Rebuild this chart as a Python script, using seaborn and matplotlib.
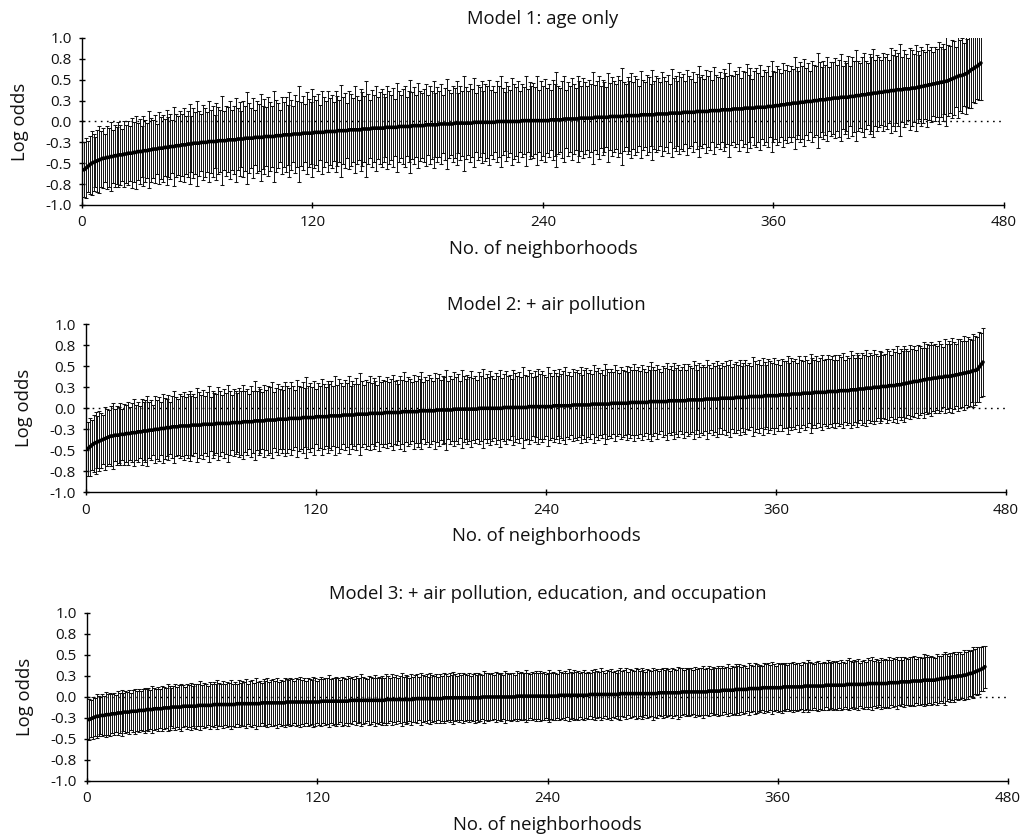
import numpy as np
import pandas as pd
import matplotlib
matplotlib.use("Agg")
import matplotlib.pyplot as plt
import seaborn as sns

# ---------------- text ----------------
titles = ["Model 1: age only",
          "Model 2: + air pollution",
          "Model 3: + air pollution, education, and occupation"]
x_label = "No. of neighborhoods"
y_label = "Log odds"
x_ticks = [0, 120, 240, 360, 480]
y_ticks = [-1.0, -0.75, -0.5, -0.25, 0.0, 0.25, 0.5, 0.75, 1.0]
y_tick_labels = ["-1.0", "-0.8", "-0.5", "-0.3", "0.0", "0.3", "0.5", "0.8", "1.0"]

# ---------------- data (log odds x 100) ----------------
m1_est = [
    -58,-56,-54,-52,-50,-49,-48,-47,-46,-45,
    -44,-44,-43,-43,-42,-42,-41,-41,-40,-40,
    -40,-39,-39,-38,-38,-38,-37,-37,-36,-36,
    -36,-35,-35,-35,-34,-34,-33,-33,-33,-32,
    -32,-32,-31,-31,-31,-30,-30,-30,-29,-29,
    -29,-28,-28,-28,-27,-27,-27,-26,-26,-26,
    -26,-25,-25,-25,-25,-24,-24,-24,-24,-24,-23,-23,-23,-23,-23,-22,-22,-22,-22,-22,
    -21,-21,-21,-21,-20,-20,-20,-20,-20,-19,-19,-19,-19,-19,-18,-18,-18,-18,-18,-18,
    -17,-17,-17,-17,-16,-16,-16,-16,-16,-15,-15,-15,-15,
    -15,-14,-14,-14,-14,-14,-14,-13,-13,-13,-13,-13,-13,-12,-12,-12,-12,-12,-12,
    -11,-11,-11,-11,-11,-11,-10,-10,-10,-10,-10,-10,-10,-9,-9,-9,-9,-9,
    -8,-8,-8,-8,-8,-8,-8,-7,-7,-7,-7,-7,-7,-7,-6,-6,-6,-6,-6,-6,-6,
    -5,-5,-5,-5,-5,-5,-5,-4,-4,-4,-4,-4,-4,-4,-3,-3,-3,-3,-3,-3,-3,-3,
    -2,-2,-2,-2,-2,-2,-2,
    -2,-2,-2,-1,-1,-1,-1,-1,-1,-1,-1,-1,-1,-1,-1,
    0,0,0,0,0,0,0,0,0,0,0,0,0,
    1,1,1,1,1,1,1,1,1,1,1,1,
    1,1,1,2,2,2,2,2,2,2,3,3,3,3,3,3,3,3,4,4,4,4,4,4,4,4,
    5,5,5,5,5,5,5,5,6,6,6,6,6,6,6,6,7,7,7,7,7,7,7,7,8,8,8,8,8,
    8,8,8,9,9,9,9,9,9,9,10,10,10,10,10,10,10,11,11,11,11,11,11,11,
    12,12,12,12,12,12,12,13,13,13,13,
    13,13,14,14,14,14,14,14,15,15,15,15,15,15,16,16,16,16,16,16,17,17,17,17,17,17,18,18,18,18,
    19,19,19,20,20,20,21,21,21,22,22,22,22,23,23,23,24,24,24,24,
    25,25,25,26,26,26,26,27,27,27,28,28,28,28,29,29,29,29,29,
    30,30,30,31,31,31,32,32,32,33,33,33,34,34,34,35,35,35,
    36,36,36,37,37,37,38,38,38,38,39,39,39,39,40,40,40,
    41,41,42,42,43,43,44,44,45,45,46,46,47,47,48,48,
    49,50,51,52,53,54,55,55,56,57,
    58,60,62,63,65,66,68,70,
]
m1_hw = [
    33,36,31,35,38,34,30,37,40,33,36,29,38,35,41,32,37,34,39,36,31,40,35,38,33,42,
    36,44,34,39,31,42,37,33,46,38,35,41,30,43,37,40,34,45,36,39,32,47,38,35,42,37,
    44,35,40,48,33,42,37,51,39,34,45,41,36,49,38,43,32,46,40,37,53,35,42,39,47,36,
    41,50,37,44,34,46,39,55,42,36,48,33,43,40,52,38,45,35,47,41,37,54,43,39,31,46,
    39,45,36,51,42,34,47,40,57,38,44,35,49,41,37,53,43,39,46,33,50,42,36,48,40,44,
    35,48,42,37,55,40,45,33,47,43,38,52,41,36,49,44,39,58,42,35,46,40,51,37,43,47,
    41,36,50,44,39,47,34,53,42,38,45,48,35,43,56,40,46,37,51,42,39,44,49,36,47,41,
    52,38,45,40,48,35,43,54,41,37,46,42,50,36,44,39,57,43,38,47,41,53,35,45,42,49,
    37,46,43,51,39,44,36,48,42,55,40,35,47,43,38,52,45,41,49,36,44,40,54,38,46,42,
    45,40,53,37,47,42,50,39,44,36,48,43,57,41,38,46,51,35,44,40,49,42,37,52,45,39,
    48,43,38,46,41,55,39,44,50,37,45,42,36,53,40,47,43,39,49,44,58,41,38,46,42,51,
    40,47,44,36,52,42,39,48,45,37,54,41,46,43,38,50,44,40,47,35,53,42,45,39,49,43,
    46,38,51,43,40,48,36,45,55,41,44,39,50,42,47,37,52,43,40,46,38,49,44,41,56,42,
    39,45,42,50,37,46,43,53,40,48,35,44,47,41,51,38,45,42,49,36,54,43,40,47,44,38,
    50,42,47,39,45,41,55,43,38,48,44,52,40,46,37,49,43,41,57,45,39,47,42,50,38,44,
    43,48,40,46,52,38,44,41,49,36,47,43,54,42,39,45,50,41,37,48,44,53,40,46,42,39,
    47,41,45,38,51,43,48,40,44,55,39,46,42,37,49,45,41,52,43,38,47,44,40,50,42,45,
    38,44,41,49,42,46,39,53,43,40,47,44,36,50,42,45,38,48,41,44,46,40,43,39,42,44,
]

m2_est = [
    -48,-46,-44,-42,-41,-40,-39,-38,-37,-36,-35,-34,
    -33,-33,-32,-32,-32,-31,-31,-31,-30,-30,-30,-29,-29,-29,-28,-28,-28,-27,
    -27,-27,-26,-26,-26,-25,-25,-25,-24,-24,-24,-23,-23,-23,-22,-22,-22,
    -22,-21,-21,-21,-21,-21,-21,-20,-20,-20,-20,-20,-20,-19,-19,-19,-19,-19,-19,-19,
    -18,-18,-18,-18,-18,-18,
    -18,-18,-17,-17,-17,-17,-17,-17,-16,-16,-16,-16,-16,-16,-15,-15,-15,-15,-15,-15,
    -14,-14,-14,-14,-14,-14,-13,-13,-13,-13,-13,-13,-12,-12,-12,
    -12,-12,-12,-12,-11,-11,-11,-11,-11,-11,-11,-10,-10,-10,-10,-10,-10,-10,
    -9,-9,-9,-9,-9,-9,-9,-8,-8,-8,-8,-8,-8,-8,-7,-7,-7,-7,-7,-7,-7,-6,-6,-6,-6,-6,
    -6,-6,-6,-5,-5,-5,-5,-5,-5,-5,-5,-5,-4,-4,-4,-4,-4,-4,-4,-4,-4,
    -3,-3,-3,-3,-3,-3,-3,-3,-3,-2,-2,-2,-2,-2,-2,-2,-2,-2,-1,-1,-1,-1,-1,-1,-1,-1,-1,
    -1,-1,-1,-1,0,0,0,0,0,0,0,0,0,0,0,0,0,1,1,1,1,1,1,1,1,1,1,1,1,1,
    2,2,2,2,2,2,2,2,2,2,
    2,2,2,3,3,3,3,3,3,3,3,3,3,4,4,4,4,4,4,4,4,4,4,5,5,5,5,5,5,5,5,5,5,6,6,6,6,6,6,6,
    6,6,6,7,7,7,7,7,7,7,7,7,7,8,8,8,8,8,8,8,8,8,8,9,9,9,9,9,9,9,9,9,9,
    10,10,10,10,10,10,10,
    10,10,11,11,11,11,11,11,11,11,12,12,12,12,12,12,12,12,13,13,13,13,13,13,13,
    14,14,14,14,14,14,14,14,15,15,15,15,15,15,
    15,15,16,16,16,16,16,16,17,17,17,17,17,17,18,18,18,18,18,18,
    19,19,19,19,19,19,19,20,20,20,20,20,20,21,21,21,21,21,21,
    22,22,22,22,23,23,23,23,24,24,24,24,25,25,25,25,26,26,26,26,27,27,27,27,28,28,28,
    29,29,30,30,31,31,32,32,32,33,33,34,34,35,35,35,36,36,36,37,37,37,38,38,38,38,
    39,39,40,40,41,41,42,42,43,43,44,45,45,46,
    49,52,55,
]
m2_hw = [
    32,35,30,34,37,31,36,33,29,38,34,32,36,39,31,35,33,37,30,36,34,38,32,35,40,33,
    36,31,39,34,37,42,33,36,30,40,35,38,32,41,36,34,39,31,37,43,35,33,38,36,40,34,
    38,42,35,37,33,44,39,36,41,34,38,45,32,40,37,35,43,39,34,41,36,46,38,33,40,37,
    35,41,38,44,36,39,33,42,37,47,35,40,38,34,43,36,41,39,45,33,38,42,36,40,35,44,
    40,36,43,38,34,46,39,37,42,35,48,38,41,36,44,33,40,37,45,39,35,43,38,41,36,47,
    37,44,39,35,42,38,46,34,40,37,43,36,49,39,35,41,38,44,36,42,39,34,45,37,40,38,
    42,36,40,45,37,39,34,43,38,47,36,41,39,35,44,37,42,38,46,34,40,37,43,39,36,45,
    38,43,36,41,39,48,35,40,37,44,38,42,34,46,39,36,41,38,45,37,40,35,43,39,47,36,
    41,37,44,39,35,42,38,46,36,40,43,37,39,34,45,41,38,42,36,48,39,37,44,40,35,42,
    36,45,39,42,38,35,47,40,37,43,39,36,44,38,41,46,37,40,35,43,39,42,38,45,36,41,
    44,38,41,36,46,39,43,37,40,35,48,42,38,41,37,45,39,36,43,40,38,44,37,42,39,46,
    39,42,37,45,40,36,43,38,47,41,37,44,39,35,42,40,46,38,41,37,45,39,43,36,40,44,
    37,43,40,38,46,41,36,44,39,42,38,47,40,37,43,39,45,41,36,42,38,44,40,46,37,41,
    42,39,45,37,41,44,38,40,36,47,42,39,43,38,46,40,37,44,41,39,45,38,42,36,43,40,
    40,46,38,43,39,42,37,45,41,38,44,40,36,47,42,39,43,37,41,45,38,40,44,39,42,37,
    43,38,42,40,45,37,41,39,46,42,38,44,40,37,43,41,45,38,42,39,44,40,37,43,41,38,
    39,44,41,37,43,40,46,38,42,39,45,41,38,44,40,42,37,43,41,39,45,38,42,40,44,39,
    41,38,43,40,36,44,39,42,38,45,40,37,43,41,39,44,38,42,40,37,43,41,39,42,38,40,
]

m3_est = [
    -27,-26,-25,-24,-23,
    -23,-22,-22,-22,-21,-21,-21,-20,-20,-20,-19,-19,-19,-18,-18,-18,
    -18,-17,-17,-17,-17,-16,-16,-16,-16,-15,-15,-15,-15,-14,-14,-14,-14,-14,
    -13,-13,-13,-13,-12,-12,-12,-12,
    -12,-12,-11,-11,-11,-11,-11,-11,-11,-11,-10,-10,-10,-10,-10,-10,-10,-10,
    -9,-9,-9,-9,-9,-9,-9,-9,
    -9,-9,-9,-9,-8,-8,-8,-8,-8,-8,-8,-8,-8,-8,-8,-8,-8,
    -7,-7,-7,-7,-7,-7,-7,-7,-7,-7,-7,-7,-7,-6,-6,-6,-6,-6,-6,-6,-6,-6,-6,-6,-6,-6,
    -6,-6,-6,-6,-6,-5,-5,-5,-5,-5,-5,-5,-5,-5,-5,-5,-5,-5,-5,-5,
    -4,-4,-4,-4,-4,-4,-4,-4,-4,-4,-4,-4,-4,-4,-4,
    -4,-4,-4,-4,-3,-3,-3,-3,-3,-3,-3,-3,-3,-3,-3,-3,-3,-3,-3,
    -2,-2,-2,-2,-2,-2,-2,-2,-2,-2,-2,-2,-2,-2,-2,
    -1,-1,-1,-1,-1,-1,-1,-1,-1,-1,-1,-1,-1,-1,-1,
    -1,-1,-1,-1,-1,0,0,0,0,0,0,0,0,0,0,0,0,0,0,0,0,0,0,
    1,1,1,1,1,1,1,1,1,1,1,1,1,1,1,1,1,
    1,1,1,1,1,2,2,2,2,2,2,2,2,2,2,2,2,2,2,2,2,
    3,3,3,3,3,3,3,3,3,3,3,3,3,3,3,3,4,4,4,4,4,4,4,4,4,4,4,4,4,4,4,4,
    4,4,4,4,5,5,5,5,5,5,5,5,5,5,5,5,6,6,6,6,6,6,6,6,6,6,6,
    6,6,6,7,7,7,7,7,7,7,8,8,8,8,8,8,8,9,9,9,9,9,9,9,10,10,10,10,10,10,10,
    11,11,11,11,11,11,11,
    11,11,11,11,12,12,12,12,12,12,12,12,12,12,12,13,13,13,13,13,13,13,13,13,13,13,
    14,14,14,14,14,14,14,14,14,14,14,15,15,15,15,15,15,15,15,15,15,15,
    16,16,16,16,16,16,16,16,16,
    16,16,17,17,17,17,17,17,18,18,18,18,18,18,19,19,19,19,19,19,20,20,20,20,20,20,
    20,21,21,22,22,22,23,23,23,24,24,24,25,25,25,26,26,
    27,28,28,29,30,31,32,33,34,36,
]
m3_hw = [
    24,22,25,23,26,24,22,25,23,27,24,26,23,25,22,26,24,27,23,25,24,26,22,25,27,24,
    26,23,25,27,24,26,23,28,25,24,26,23,27,25,24,28,26,23,25,27,24,26,28,25,23,27,
    25,28,24,26,27,25,29,24,27,26,23,28,25,27,24,29,26,25,28,24,27,26,29,25,27,24,
    28,25,27,26,29,24,27,28,25,30,26,27,24,28,26,29,25,27,28,26,30,25,27,26,29,27,
    26,29,27,25,28,27,30,26,28,25,29,27,26,30,28,25,27,29,26,28,27,31,26,28,27,29,
    27,25,29,28,26,30,27,28,25,29,27,26,31,28,27,25,29,28,26,30,27,28,26,29,27,30,
    28,26,30,27,29,26,28,31,27,29,28,26,30,27,28,29,26,31,28,27,29,26,30,28,27,29,
    26,29,27,30,28,26,29,27,31,28,26,29,27,30,28,27,29,26,28,30,27,29,28,26,31,28,
    29,27,28,26,30,28,27,29,26,31,28,27,29,28,26,30,27,29,28,27,31,28,26,29,27,30,
    27,30,28,29,26,28,31,27,29,28,26,30,28,27,29,26,31,28,27,30,28,29,26,28,30,27,
    28,26,29,27,30,28,27,31,28,26,29,28,30,27,28,26,29,31,27,28,30,26,29,28,27,30,
    29,27,30,28,26,29,28,27,31,28,29,26,28,30,27,29,28,26,30,28,27,31,29,28,26,29,
    27,29,28,26,30,27,29,28,31,27,28,30,26,29,28,27,30,28,29,26,28,31,27,29,28,30,
    28,30,27,29,28,26,31,28,27,30,29,27,28,26,30,28,29,27,31,28,26,29,28,30,27,29,
    26,29,28,30,27,29,28,26,30,28,27,31,29,28,26,29,30,27,28,29,26,30,28,27,29,28,
    29,27,30,28,26,29,31,28,27,29,28,30,26,28,29,27,30,28,31,27,29,28,26,30,28,29,
    28,30,27,29,28,31,27,29,26,30,28,27,29,28,30,26,29,28,27,31,28,30,27,29,28,26,
    30,28,27,29,31,28,26,29,28,30,27,29,28,26,30,28,29,27,28,30,27,29,28,26,27,25,
]

models = [(m1_est, m1_hw), (m2_est, m2_hw), (m3_est, m3_hw)]

# ---------------- style ----------------
sns.set_style("ticks")
plt.rcParams["font.family"] = ["Open Sans", "DejaVu Sans"]
plt.rcParams["axes.linewidth"] = 1.0

fig = plt.figure(figsize=(10.25, 8.36), dpi=100)
positions = [(0.0800, 0.7548, 0.8995, 0.1998),
             (0.0839, 0.4111, 0.8976, 0.2010),
             (0.0849, 0.0658, 0.8985, 0.2010)]

for (est, hw), title, pos in zip(models, titles, positions):
    assert len(est) == len(hw), (title, len(est), len(hw))
    df = pd.DataFrame({
        "n": np.arange(1, len(est) + 1),
        "est": np.asarray(est) / 100.0,
        "hw": np.asarray(hw) / 100.0,
    })
    ax = fig.add_axes(pos)
    ax.axhline(0.0, color="black", lw=1.0, ls=(0, (1.2, 3.2)), zorder=1)
    ax.errorbar(df["n"], df["est"], yerr=df["hw"], fmt="none",
                ecolor="#111111", elinewidth=0.7, capsize=1.7,
                capthick=0.75, zorder=2)
    sns.lineplot(data=df, x="n", y="est", color="black", lw=2.6,
                 ax=ax, zorder=3)
    ax.set_xlim(0, 480)
    ax.set_ylim(-1.0, 1.0)
    ax.set_xticks(x_ticks)
    ax.set_xticklabels([str(t) for t in x_ticks])
    ax.set_yticks(y_ticks)
    ax.set_yticklabels(y_tick_labels)
    ax.tick_params(axis="both", direction="inout", length=5, width=1.0,
                   color="black", labelsize=11, labelcolor="#111")
    ax.tick_params(axis="x", pad=5)
    ax.tick_params(axis="y", pad=5)
    for s in ["top", "right"]:
        ax.spines[s].set_visible(False)
    for s in ["left", "bottom"]:
        ax.spines[s].set_color("black")
    ax.set_title(title, fontsize=13.3, pad=10, color="#111")
    ax.set_xlabel(x_label, fontsize=13.3, labelpad=7, color="#111")
    ax.set_ylabel(y_label, fontsize=13.3, labelpad=12, color="#111")

fig.savefig("out.png", dpi=100)
